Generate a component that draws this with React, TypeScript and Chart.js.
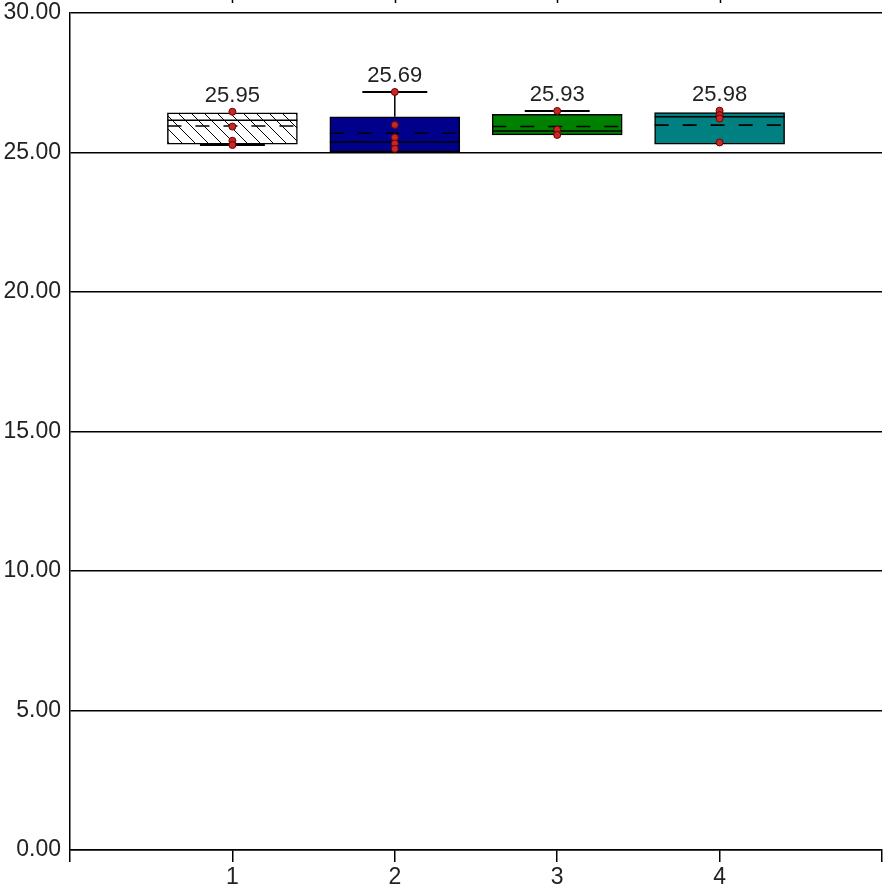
import { useEffect, useRef } from 'react';
import { Chart, registerables } from 'chart.js';
Chart.register(...registerables);

// ---- data ----
const CATEGORIES = [1, 2, 3, 4];
const Q1 = [25.3, 25.02, 25.63, 25.3];
const Q3 = [26.42, 26.28, 26.37, 26.43];
const MEDIAN = [26.16, 25.38, 25.77, 26.28];
const MEAN = [25.95, 25.69, 25.93, 25.98];
const WHISKER_LOW = [25.27, 25.02, 25.63, 25.3];
const WHISKER_HIGH = [26.42, 27.17, 26.49, 26.43];
const POINTS_1 = [26.46, 25.93, 25.42, 25.27];
const POINTS_2 = [27.17, 25.99, 25.54, 25.32, 25.13];
const POINTS_3 = [26.49, 25.82, 25.63];
const POINTS_4 = [26.5, 26.34, 26.22, 25.36];
const POINTS = [POINTS_1, POINTS_2, POINTS_3, POINTS_4];
const Y_TICKS = [0, 5, 10, 15, 20, 25, 30];

const BOX_COLORS = ['hatch', '#00008b', '#008000', '#008080'];
const BOX_WIDTH_UNITS = 0.8;
const CAP_WIDTH_UNITS = 0.4;
const LABEL_FONT = '22px "Liberation Sans", Arial, sans-serif';

function makeHatch(): CanvasPattern | string {
  const s = 13;
  const c = document.createElement('canvas');
  c.width = s;
  c.height = s;
  const g = c.getContext('2d');
  if (!g) return '#fff';
  g.fillStyle = '#fff';
  g.fillRect(0, 0, s, s);
  g.strokeStyle = '#000';
  g.lineWidth = 1;
  g.beginPath();
  g.moveTo(-1, -1);
  g.lineTo(s + 1, s + 1);
  g.moveTo(-1, s - 1);
  g.lineTo(1, s + 1);
  g.moveTo(s - 1, -1);
  g.lineTo(s + 1, 1);
  g.stroke();
  const p = g.createPattern(c, 'repeat');
  return p || '#fff';
}

export default function App() {
  const ref = useRef<HTMLCanvasElement>(null);

  useEffect(() => {
    const canvas = ref.current;
    if (!canvas) return;
    const hatch = makeHatch();

    const boxPlugin = {
      id: 'boxExtras',
      afterDatasetDraw(chart: any, args: any) {
        if (args.index !== 1) return;
        const ctx = chart.ctx;
        const x = chart.scales.x;
        const y = chart.scales.y;
        ctx.save();
        ctx.strokeStyle = '#000';
        CATEGORIES.forEach((c, i) => {
          const xl = x.getPixelForValue(c - BOX_WIDTH_UNITS / 2);
          const xr = x.getPixelForValue(c + BOX_WIDTH_UNITS / 2);
          const xc = x.getPixelForValue(c);
          const cl = x.getPixelForValue(c - CAP_WIDTH_UNITS / 2);
          const cr = x.getPixelForValue(c + CAP_WIDTH_UNITS / 2);
          // whiskers
          ctx.setLineDash([]);
          ctx.lineWidth = 1.5;
          ctx.beginPath();
          ctx.moveTo(xc, y.getPixelForValue(Q3[i]));
          ctx.lineTo(xc, y.getPixelForValue(WHISKER_HIGH[i]));
          ctx.moveTo(xc, y.getPixelForValue(Q1[i]));
          ctx.lineTo(xc, y.getPixelForValue(WHISKER_LOW[i]));
          ctx.stroke();
          ctx.lineWidth = 2;
          ctx.beginPath();
          if (WHISKER_HIGH[i] > Q3[i]) {
            ctx.moveTo(cl, y.getPixelForValue(WHISKER_HIGH[i]));
            ctx.lineTo(cr, y.getPixelForValue(WHISKER_HIGH[i]));
          }
          if (WHISKER_LOW[i] < Q1[i]) {
            ctx.moveTo(cl, y.getPixelForValue(WHISKER_LOW[i]));
            ctx.lineTo(cr, y.getPixelForValue(WHISKER_LOW[i]));
          }
          ctx.stroke();
          // median
          ctx.lineWidth = 1.5;
          ctx.beginPath();
          ctx.moveTo(xl, y.getPixelForValue(MEDIAN[i]));
          ctx.lineTo(xr, y.getPixelForValue(MEDIAN[i]));
          ctx.stroke();
          // mean (dashed)
          ctx.lineWidth = 1.6;
          ctx.setLineDash([14, 14]);
          ctx.beginPath();
          ctx.moveTo(xl, y.getPixelForValue(MEAN[i]));
          ctx.lineTo(xr, y.getPixelForValue(MEAN[i]));
          ctx.stroke();
        });
        ctx.restore();
      },
      afterDatasetsDraw(chart: any) {
        const ctx = chart.ctx;
        const x = chart.scales.x;
        const y = chart.scales.y;
        ctx.save();
        ctx.font = LABEL_FONT;
        ctx.fillStyle = '#222';
        ctx.textAlign = 'center';
        ctx.textBaseline = 'alphabetic';
        CATEGORIES.forEach((c, i) => {
          const top = Math.max(WHISKER_HIGH[i], ...POINTS[i]);
          ctx.fillText(MEAN[i].toFixed(2), x.getPixelForValue(c), y.getPixelForValue(top) - 10);
        });
        // small top tick marks
        ctx.strokeStyle = '#000';
        ctx.lineWidth = 1.5;
        ctx.beginPath();
        CATEGORIES.forEach((c) => {
          const px = Math.round(x.getPixelForValue(c)) + 0.5;
          ctx.moveTo(px, 0);
          ctx.lineTo(px, 3);
        });
        ctx.stroke();
        ctx.restore();
      },
    };

    const pointData: { x: number; y: number }[] = [];
    CATEGORIES.forEach((c, i) => POINTS[i].forEach((v) => pointData.push({ x: c, y: v })));

    const chart = new Chart(canvas, {
      type: 'bar',
      data: {
        datasets: [
          {
            type: 'scatter',
            data: pointData,
            order: 0,
            pointRadius: 3.5,
            pointBackgroundColor: '#c62828',
            pointBorderColor: '#6d0000',
            pointBorderWidth: 1,
          } as any,
          {
            type: 'bar',
            data: CATEGORIES.map((c, i) => ({ x: c, y: [Q1[i], Q3[i]] })),
            order: 1,
            barThickness: 130,
            grouped: false,
            backgroundColor: BOX_COLORS.map((col) => (col === 'hatch' ? hatch : col)),
            borderColor: '#000',
            borderWidth: 1.5,
            borderSkipped: false,
          } as any,
        ],
      },
      options: {
        animation: false,
        responsive: true,
        maintainAspectRatio: false,
        layout: { padding: { top: 13, right: 3, left: 0, bottom: 0 } },
        plugins: { legend: { display: false }, tooltip: { enabled: false } },
        scales: {
          x: {
            type: 'linear',
            min: 0,
            max: 5,
            offset: false,
            afterFit: (s: any) => {
              s.height = 39;
              s.paddingLeft = 0;
              s.paddingRight = 0;
            },
            afterBuildTicks: (s: any) => {
              s.ticks = [0, ...CATEGORIES, 5].map((v) => ({ value: v }));
            },
            ticks: {
              autoSkip: false,
              padding: 2,
              color: '#222',
              font: { family: '"Liberation Sans", Arial', size: 23 },
              callback: (v: any) => (CATEGORIES.includes(Number(v)) ? String(v) : ''),
            },
            grid: {
              offset: false,
              drawOnChartArea: false,
              drawTicks: true,
              tickLength: 12,
              color: '#000',
              lineWidth: 1.5,
            },
            border: { display: true, color: '#000', width: 1.5 },
          },
          y: {
            type: 'linear',
            min: 0,
            max: 30,
            afterFit: (s: any) => {
              s.width = 70;
              s.paddingTop = 0;
              s.paddingBottom = 0;
            },
            afterBuildTicks: (s: any) => {
              s.ticks = Y_TICKS.map((v) => ({ value: v }));
            },
            ticks: {
              padding: 9,
              color: '#222',
              font: { family: '"Liberation Sans", Arial', size: 23 },
              callback: (v: any) => Number(v).toFixed(2),
            },
            grid: {
              drawTicks: false,
              color: '#000',
              lineWidth: 1.5,
            },
            border: { display: true, color: '#000', width: 1.5 },
          },
        },
      },
      plugins: [boxPlugin],
    });
    return () => chart.destroy();
  }, []);

  return (
    <div style={{ position: 'fixed', left: 0, top: 0, width: 887, height: 889, background: '#fff' }}>
      <canvas ref={ref} />
    </div>
  );
}
